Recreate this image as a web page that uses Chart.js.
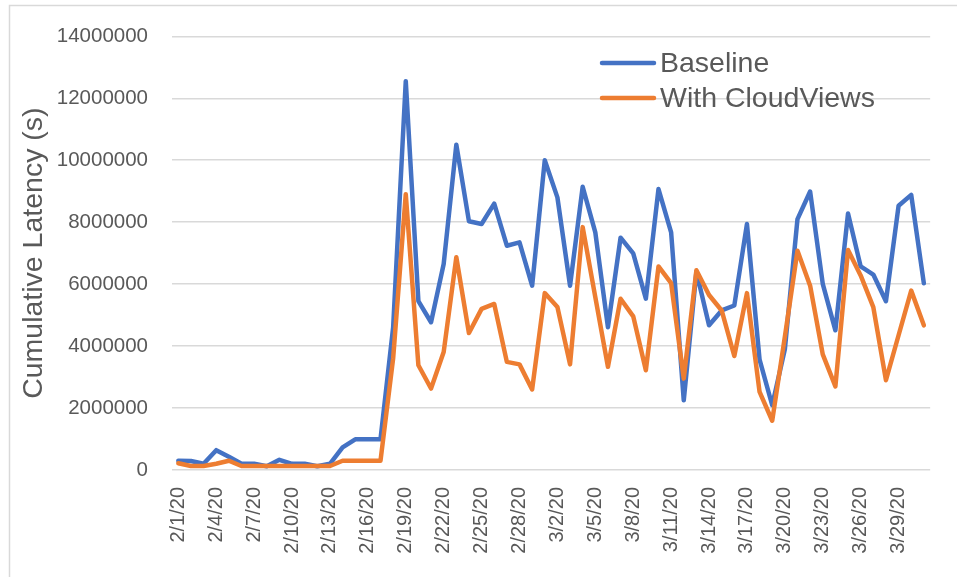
<!DOCTYPE html>
<html lang="en">
<head>
  <meta charset="UTF-8" />
  <title>Cumulative Latency</title>
  <script src="https://cdn.jsdelivr.net/npm/chart.js"></script>
  <style>
    html, body { margin: 0; padding: 0; background: #fff; }
    #wrap { width: 957px; height: 577px; }
  </style>
</head>
<body>
  <div id="wrap"><canvas id="latencyChart" width="957" height="577"></canvas></div>

  <script>
    // categories (one per day)
    const dates = [
      '2/1/20', '2/2/20', '2/3/20', '2/4/20', '2/5/20', '2/6/20', '2/7/20', '2/8/20', '2/9/20', '2/10/20',
      '2/11/20', '2/12/20', '2/13/20', '2/14/20', '2/15/20', '2/16/20', '2/17/20', '2/18/20', '2/19/20', '2/20/20',
      '2/21/20', '2/22/20', '2/23/20', '2/24/20', '2/25/20', '2/26/20', '2/27/20', '2/28/20', '2/29/20', '3/1/20',
      '3/2/20', '3/3/20', '3/4/20', '3/5/20', '3/6/20', '3/7/20', '3/8/20', '3/9/20', '3/10/20', '3/11/20',
      '3/12/20', '3/13/20', '3/14/20', '3/15/20', '3/16/20', '3/17/20', '3/18/20', '3/19/20', '3/20/20', '3/21/20',
      '3/22/20', '3/23/20', '3/24/20', '3/25/20', '3/26/20', '3/27/20', '3/28/20', '3/29/20', '3/30/20', '3/31/20'
    ];

    const baseline = [
      300000, 290000, 200000, 640000, 430000, 200000, 200000, 120000, 330000, 200000,
      200000, 120000, 200000, 730000, 990000, 990000, 990000, 4600000, 12550000, 5450000,
      4770000, 6650000, 10500000, 8030000, 7940000, 8600000, 7240000, 7350000, 5950000, 10000000,
      8800000, 5950000, 9140000, 7670000, 4610000, 7500000, 6990000, 5530000, 9070000, 7670000,
      2250000, 6400000, 4670000, 5150000, 5310000, 7940000, 3560000, 2090000, 3900000, 8100000,
      8990000, 6010000, 4510000, 8280000, 6570000, 6310000, 5450000, 8530000, 8880000, 6030000
    ];

    const withCloudViews = [
      220000, 130000, 130000, 200000, 300000, 130000, 130000, 130000, 130000, 130000,
      130000, 130000, 130000, 300000, 300000, 300000, 300000, 3600000, 8900000, 3380000,
      2630000, 3810000, 6870000, 4420000, 5200000, 5360000, 3490000, 3410000, 2600000, 5710000,
      5260000, 3410000, 7840000, 5580000, 3330000, 5530000, 4960000, 3220000, 6570000, 6030000,
      2950000, 6450000, 5650000, 5150000, 3680000, 5710000, 2520000, 1590000, 4300000, 7080000,
      5950000, 3730000, 2700000, 7100000, 6280000, 5260000, 2900000, 4350000, 5790000, 4670000
    ];

    const seriesNames = ['Baseline', 'With CloudViews'];
    const yTicks = [0, 2000000, 4000000, 6000000, 8000000, 10000000, 12000000, 14000000];

    const FONT = "'Liberation Sans', Arial, sans-serif";
    const TEXT = '#595959';
    const GRID = '#d9d9d9';

    // outer chart frame (only top/left edges show in the original crop)
    const framePlugin = {
      id: 'frame',
      beforeDraw(chart) {
        const c = chart.ctx;
        c.save();
        c.fillStyle = '#fff';
        c.fillRect(0, 0, chart.width, chart.height);
        c.strokeStyle = GRID;
        c.lineWidth = 1.5;
        c.strokeRect(9.5, 5.5, chart.width + 20, chart.height + 20);
        c.restore();
      }
    };

    // legend stacked in the top-right corner of the plot
    const legendPlugin = {
      id: 'cornerLegend',
      afterDraw(chart) {
        const c = chart.ctx;
        c.save();
        c.font = '28.5px ' + FONT;
        c.textBaseline = 'middle';
        c.lineCap = 'round';
        chart.data.datasets.forEach((ds, i) => {
          const y = 63 + i * 35;
          c.strokeStyle = ds.borderColor;
          c.lineWidth = 4.5;
          c.beginPath();
          c.moveTo(602, y);
          c.lineTo(654, y);
          c.stroke();
          c.fillStyle = TEXT;
          c.fillText(ds.label, 660, y + 1);
        });
        c.restore();
      }
    };

    new Chart(document.getElementById('latencyChart'), {
      type: 'line',
      data: {
        labels: dates,
        datasets: [
          {
            label: seriesNames[0],
            data: baseline,
            borderColor: '#4472c4',
            backgroundColor: '#4472c4',
            borderWidth: 4.5,
            pointRadius: 0,
            tension: 0,
            borderJoinStyle: 'round',
            borderCapStyle: 'round',
            order: 1
          },
          {
            label: seriesNames[1],
            data: withCloudViews,
            borderColor: '#ed7d31',
            backgroundColor: '#ed7d31',
            borderWidth: 4.5,
            pointRadius: 0,
            tension: 0,
            borderJoinStyle: 'round',
            borderCapStyle: 'round',
            order: 0
          }
        ]
      },
      options: {
        responsive: false,
        animation: false,
        devicePixelRatio: 1,
        layout: { padding: { top: 35, right: 18, left: 0, bottom: 0 } },
        plugins: {
          legend: { display: false },
          tooltip: { enabled: false }
        },
        scales: {
          x: {
            offset: true,
            grid: { display: false },
            border: { display: false },
            ticks: {
              autoSkip: false,
              maxRotation: 90,
              minRotation: 90,
              padding: 9,
              color: TEXT,
              font: { family: FONT, size: 20 },
              callback: function (val, idx) {
                return idx % 3 === 0 ? this.getLabelForValue(val) : '';
              }
            },
            afterFit(scale) { scale.height = 107; }
          },
          y: {
            min: 0,
            max: 14000000,
            afterBuildTicks(scale) { scale.ticks = yTicks.map(v => ({ value: v })); },
            grid: { color: GRID, lineWidth: 1.5, drawTicks: false },
            border: { display: false },
            ticks: {
              padding: 24,
              color: TEXT,
              font: { family: FONT, size: 20.5 },
              callback: v => String(v)
            },
            title: {
              display: true,
              text: 'Cumulative Latency (s)',
              color: TEXT,
              font: { family: FONT, size: 28.5 },
              padding: { top: 17, bottom: 0 }
            },
            afterFit(scale) { scale.width = 172; }
          }
        }
      },
      plugins: [framePlugin, legendPlugin]
    });
  </script>
</body>
</html>
